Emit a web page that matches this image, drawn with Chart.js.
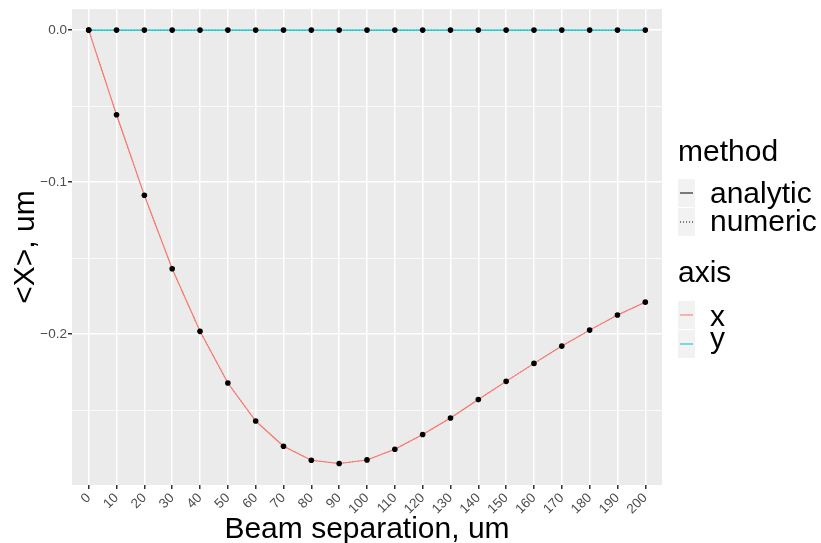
<!DOCTYPE html>
<html>
<head>
<meta charset="utf-8">
<script src="https://cdn.jsdelivr.net/npm/chart.js@4/dist/chart.umd.min.js"></script>
<style>
  html, body { margin: 0; padding: 0; background: #fff; }
  #wrap { width: 821px; height: 543px; }
</style>
</head>
<body>
<div id="wrap"><canvas id="chart" width="821" height="543"></canvas></div>
<script>
// beam separation (um) and mean position <X> (um) per axis
const beamSep = [0, 10, 20, 30, 40, 50, 60, 70, 80, 90, 100, 110, 120, 130, 140, 150, 160, 170, 180, 190, 200];
const meanX = [0, -0.0557, -0.1087, -0.1570, -0.1982, -0.2322, -0.2572, -0.2738, -0.2830, -0.2852, -0.2828,
               -0.2758, -0.2661, -0.2552, -0.2431, -0.2311, -0.2193, -0.2079, -0.1974, -0.1875, -0.1790];
const meanY = [0, 0, 0, 0, 0, 0, 0, 0, 0, 0, 0, 0, 0, 0, 0, 0, 0, 0, 0, 0, 0];
const yTicks = [-0.25, -0.2, -0.15, -0.1, -0.05, 0];

const methodLabels = ['analytic', 'numeric'];
const axisLabels = ['x', 'y'];

const RED = '#F8766D';
const CYAN = '#00BFC4';
const FONT = '"Liberation Sans", Arial, sans-serif';

function pts(ys) {
  return beamSep.map((x, i) => ({ x: x, y: ys[i] }));
}

function isMajor(v) {
  return Math.abs(v * 10 - Math.round(v * 10)) < 1e-9;
}

// grey panel like ggplot
const panelBg = {
  id: 'panelBg',
  beforeDraw(chart) {
    const a = chart.chartArea;
    const ctx = chart.ctx;
    ctx.save();
    ctx.fillStyle = '#EBEBEB';
    ctx.fillRect(a.left, a.top, a.right - a.left, a.bottom - a.top);
    ctx.restore();
  }
};

// two titled legend groups on the right
const groupLegend = {
  id: 'groupLegend',
  afterDraw(chart) {
    const ctx = chart.ctx;
    ctx.save();
    ctx.font = '30px ' + FONT;
    ctx.fillStyle = '#000';
    ctx.textBaseline = 'alphabetic';
    ctx.textAlign = 'left';

    function key(top, color, dash) {
      ctx.fillStyle = '#F2F2F2';
      ctx.fillRect(678, top, 17, 28);
      ctx.strokeStyle = color;
      ctx.lineWidth = 1;
      ctx.setLineDash(dash);
      ctx.beginPath();
      ctx.moveTo(680, top + 14);
      ctx.lineTo(693, top + 14);
      ctx.stroke();
      ctx.setLineDash([]);
      ctx.fillStyle = '#000';
    }

    ctx.fillText('method', 678, 161);
    key(179, '#000', []);
    key(208, '#000', [1, 2]);
    ctx.fillText(methodLabels[0], 710, 203);
    ctx.fillText(methodLabels[1], 710, 231);

    ctx.fillText('axis', 678, 282);
    key(301, RED, []);
    key(330, CYAN, []);
    ctx.fillText(axisLabels[0], 710, 326);
    ctx.fillText(axisLabels[1], 710, 348);
    ctx.restore();
  }
};

const ctx = document.getElementById('chart').getContext('2d');
new Chart(ctx, {
  type: 'line',
  data: {
    datasets: [
      { label: 'points x', data: pts(meanX), showLine: false, pointRadius: 2.8,
        pointBackgroundColor: '#000', pointBorderWidth: 0, order: 0 },
      { label: 'points y', data: pts(meanY), showLine: false, pointRadius: 2.8,
        pointBackgroundColor: '#000', pointBorderWidth: 0, order: 0 },
      { label: 'x analytic', data: pts(meanX), borderColor: RED, borderWidth: 1.1,
        pointRadius: 0, tension: 0, order: 2 },
      { label: 'x numeric', data: pts(meanX), borderColor: RED, borderWidth: 1.1,
        borderDash: [1, 2], pointRadius: 0, tension: 0, order: 2 },
      { label: 'y numeric', data: pts(meanY), borderColor: CYAN, borderWidth: 1.1,
        borderDash: [1, 2], pointRadius: 0, tension: 0, order: 2 },
      { label: 'y analytic', data: pts(meanY), borderColor: CYAN, borderWidth: 1.1,
        pointRadius: 0, tension: 0, order: 1 }
    ]
  },
  options: {
    responsive: false,
    animation: false,
    layout: { padding: { left: 0, top: 8, right: 159, bottom: 0 } },
    plugins: {
      legend: { display: false },
      tooltip: { enabled: false }
    },
    scales: {
      x: {
        type: 'linear',
        min: -6,
        max: 206,
        afterBuildTicks(scale) { scale.ticks = beamSep.map(v => ({ value: v })); },
        afterFit(scale) { scale.height = 58; },
        border: { display: false },
        grid: { color: '#FFFFFF', lineWidth: 1.5, tickColor: '#333333', tickLength: 4 },
        ticks: {
          autoSkip: false,
          minRotation: 45,
          maxRotation: 45,
          padding: 1,
          color: '#4D4D4D',
          font: { family: FONT, size: 13.5 },
          callback: v => String(v)
        },
        title: {
          display: true,
          text: 'Beam separation, um',
          color: '#000',
          font: { family: FONT, size: 30 },
          padding: { top: 0, bottom: -5 }
        }
      },
      y: {
        type: 'linear',
        min: -0.2993,
        max: 0.0138,
        afterBuildTicks(scale) { scale.ticks = yTicks.map(v => ({ value: v })); },
        afterFit(scale) { scale.width = 72; },
        border: { display: false },
        grid: {
          color: '#FFFFFF',
          lineWidth: c => (c.tick && isMajor(c.tick.value)) ? 1.5 : 0.75,
          tickColor: c => (c.tick && isMajor(c.tick.value)) ? '#333333' : 'rgba(0,0,0,0)',
          tickLength: 4
        },
        ticks: {
          padding: 1,
          color: '#4D4D4D',
          font: { family: FONT, size: 13.5 },
          callback: v => isMajor(v) ? v.toFixed(1).replace('-', '\u2212') : ''
        },
        title: {
          display: true,
          text: '<X>, um',
          color: '#000',
          font: { family: FONT, size: 30 },
          padding: { top: 8, bottom: 0 }
        }
      }
    }
  },
  plugins: [panelBg, groupLegend]
});
</script>
</body>
</html>
